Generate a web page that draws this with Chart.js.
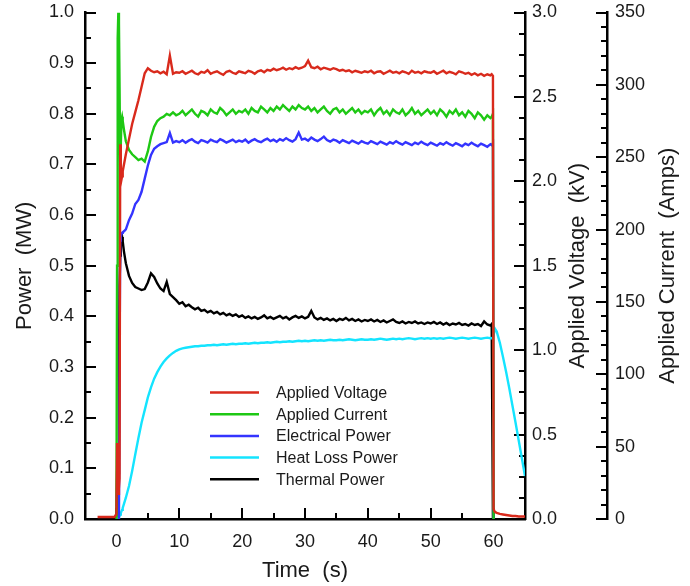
<!DOCTYPE html>
<html><head><meta charset="utf-8">
<script src="https://cdn.jsdelivr.net/npm/chart.js@4.4.0/dist/chart.umd.min.js"></script>
<style>html,body{margin:0;padding:0;background:#fff}#wrap{width:690px;height:586px}</style>
</head><body><div id="wrap"><canvas id="c" width="690" height="586"></canvas></div>
<script>
// ---------- data ----------
const time = [-5, -3, -0.3, 0, 0.1, 0.2, 0.3, 0.4, 0.5, 0.6, 0.7, 0.8, 0.9, 1, 1.2, 1.5,
  2, 2.5, 3, 3.5, 4, 4.5, 5, 5.5, 6, 6.5, 7, 7.5, 8, 8.5, 9, 9.5,
  10, 10.5, 11, 11.5, 12, 12.5, 13, 13.5, 14, 14.5, 15, 15.5, 16, 16.5, 17, 17.5, 18, 18.5, 19, 19.5,
  20, 20.5, 21, 21.5, 22, 22.5, 23, 23.5, 24, 24.5, 25, 25.5, 26, 26.5, 27, 27.5, 28, 28.5, 29, 29.5,
  30, 30.5, 31, 31.5, 32, 32.5, 33, 33.5, 34, 34.5, 35, 35.5, 36, 36.5, 37, 37.5, 38, 38.5, 39, 39.5,
  40, 40.5, 41, 41.5, 42, 42.5, 43, 43.5, 44, 44.5, 45, 45.5, 46, 46.5, 47, 47.5, 48, 48.5, 49, 49.5,
  50, 50.5, 51, 51.5, 52, 52.5, 53, 53.5, 54, 54.5, 55, 55.5, 56, 56.5, 57, 57.5, 58, 58.5, 59, 59.5,
  59.7, 59.9, 60, 60.2, 60.5, 61, 61.5, 62, 62.5, 63, 63.5, 64, 64.5, 65];

const voltageKV = [null, 0.012, 0.012, 0.03, 0.45, 0.18, 0.15, 0.18, 0.24, 2.22, 2.08, 2.01, 2.03, 2.06, 2.1, 2.16,
  2.25, 2.34, 2.41, 2.48, 2.56, 2.64, 2.67, 2.655, 2.646, 2.652, 2.64, 2.649, 2.634, 2.745, 2.637, 2.646,
  2.643, 2.652, 2.637, 2.646, 2.655, 2.64, 2.634, 2.649, 2.643, 2.658, 2.637, 2.646, 2.652, 2.64, 2.631, 2.649, 2.655, 2.643, 2.637, 2.652,
  2.646, 2.64, 2.655, 2.649, 2.637, 2.652, 2.658, 2.646, 2.661, 2.655, 2.667, 2.658, 2.664, 2.673, 2.661, 2.67, 2.664, 2.676, 2.667, 2.673,
  2.682, 2.715, 2.676, 2.67, 2.679, 2.664, 2.673, 2.667, 2.661, 2.67, 2.664, 2.655, 2.661, 2.652, 2.658, 2.646, 2.655, 2.649, 2.643, 2.652,
  2.646, 2.655, 2.64, 2.649, 2.652, 2.637, 2.646, 2.655, 2.643, 2.649, 2.64, 2.652, 2.646, 2.637, 2.655, 2.643, 2.649, 2.64, 2.652, 2.646,
  2.643, 2.652, 2.637, 2.646, 2.655, 2.64, 2.649, 2.643, 2.634, 2.652, 2.646, 2.637, 2.643, 2.631, 2.64, 2.628, 2.637, 2.625, 2.634, 2.628,
  2.634, 2.625, 0.06, 0.042, 0.036, 0.03, 0.027, 0.024, 0.021, 0.018, 0.018, 0.015, 0.015, 0.015];

const currentA = [null, null, null, 0, 175, 332, 350, 343, 298, 245, 259, 276, 278, 275, 269, 261,
  255, 252, 250, 248, 249, 247, 254, 264, 271, 275, 277, 278, 280, 279, 281, 279,
  280, 282, 279, 281, 283, 280, 278, 282, 281, 279, 283, 281, 280, 284, 282, 279, 281, 283, 280, 282,
  281, 283, 280, 284, 282, 281, 285, 283, 281, 284, 282, 285, 283, 286, 284, 282, 285, 283, 286, 284,
  283, 285, 282, 284, 281, 283, 285, 282, 280, 283, 284, 281, 283, 280, 282, 284, 281, 283, 280, 282,
  281, 283, 279, 282, 284, 280, 282, 279, 283, 281, 280, 283, 279, 281, 284, 280, 282, 279, 281, 283,
  280, 282, 279, 283, 281, 278, 282, 280, 283, 279, 281, 278, 282, 280, 277, 281, 279, 276, 279, 277,
  278, 280, 0, null, null, null, null, null, null, null, null, null, null, null];

const electricalMW = [null, null, null, null, null, null, null, 0, 0.30, 0.55, 0.558, 0.562, 0.565, 0.566, 0.568, 0.572,
  0.59, 0.603, 0.622, 0.63, 0.646, 0.672, 0.698, 0.719, 0.731, 0.736, 0.74, 0.742, 0.744, 0.762, 0.743, 0.746,
  0.744, 0.748, 0.743, 0.747, 0.75, 0.745, 0.742, 0.748, 0.746, 0.743, 0.749, 0.746, 0.744, 0.75, 0.747, 0.743, 0.746, 0.749, 0.744, 0.747,
  0.745, 0.749, 0.743, 0.747, 0.75, 0.746, 0.744, 0.748, 0.751, 0.746, 0.749, 0.745, 0.75, 0.747, 0.752, 0.748, 0.745, 0.75, 0.763, 0.749,
  0.751, 0.747, 0.753, 0.749, 0.746, 0.75, 0.755, 0.748, 0.745, 0.749, 0.747, 0.743, 0.748, 0.745, 0.742, 0.747, 0.744, 0.741, 0.746, 0.743,
  0.741, 0.746, 0.743, 0.74, 0.745, 0.742, 0.739, 0.744, 0.741, 0.746, 0.742, 0.739, 0.744, 0.741, 0.738, 0.743, 0.74, 0.745, 0.741, 0.738,
  0.743, 0.74, 0.737, 0.742, 0.739, 0.744, 0.74, 0.737, 0.742, 0.739, 0.736, 0.741, 0.738, 0.743, 0.739, 0.736, 0.741, 0.738, 0.735, 0.74,
  0.738, 0.742, 0, null, null, null, null, null, null, null, null, null, null, null];

const heatLossMW = [null, null, null, null, null, 0, 0.002, 0.004, 0.006, 0.009, 0.012, 0.015, 0.018, 0.022, 0.03, 0.042,
  0.065, 0.095, 0.128, 0.16, 0.19, 0.215, 0.24, 0.26, 0.277, 0.29, 0.301, 0.31, 0.317, 0.323, 0.328, 0.332,
  0.335, 0.337, 0.338, 0.339, 0.34, 0.341, 0.341, 0.342, 0.342, 0.343, 0.343, 0.344, 0.343, 0.344, 0.345, 0.344, 0.345, 0.346, 0.345, 0.346,
  0.346, 0.347, 0.346, 0.347, 0.348, 0.347, 0.348, 0.348, 0.349, 0.348, 0.349, 0.35, 0.349, 0.35, 0.35, 0.351, 0.35, 0.351, 0.352, 0.351,
  0.352, 0.351, 0.352, 0.353, 0.352, 0.353, 0.352, 0.353, 0.354, 0.353, 0.353, 0.354, 0.353, 0.354, 0.355, 0.354, 0.353, 0.354, 0.355, 0.354,
  0.354, 0.355, 0.354, 0.355, 0.356, 0.355, 0.354, 0.355, 0.356, 0.355, 0.356, 0.355, 0.356, 0.357, 0.356, 0.355, 0.356, 0.357, 0.356, 0.357,
  0.356, 0.357, 0.356, 0.357, 0.356, 0.357, 0.358, 0.357, 0.356, 0.357, 0.358, 0.357, 0.356, 0.357, 0.358, 0.357, 0.356, 0.357, 0.358, 0.357,
  0.357, 0.358, 0.362, 0.376, 0.37, 0.348, 0.32, 0.29, 0.258, 0.224, 0.19, 0.155, 0.12, 0.085];

const thermalMW = [null, null, null, 0, 0.08, 0.074, 0.09, 0.30, 0.46, 0.52, 0.545, 0.553, 0.557, 0.548, 0.528, 0.505,
  0.48, 0.466, 0.458, 0.455, 0.452, 0.454, 0.467, 0.485, 0.478, 0.465, 0.455, 0.45, 0.468, 0.444, 0.438, 0.432,
  0.425, 0.428, 0.42, 0.423, 0.418, 0.414, 0.417, 0.411, 0.413, 0.408, 0.411, 0.406, 0.409, 0.404, 0.407, 0.402, 0.405, 0.401, 0.404, 0.399,
  0.402, 0.397, 0.4, 0.396, 0.399, 0.395, 0.398, 0.402, 0.396, 0.399, 0.395, 0.398, 0.401, 0.396, 0.399, 0.394, 0.398, 0.401, 0.397, 0.4,
  0.396, 0.399, 0.411, 0.398, 0.394, 0.397, 0.393, 0.396, 0.392, 0.395, 0.391, 0.395, 0.393, 0.397, 0.392, 0.395, 0.391, 0.394, 0.39, 0.393,
  0.391, 0.394, 0.39, 0.393, 0.389, 0.392, 0.388, 0.391, 0.394, 0.389, 0.387, 0.39, 0.386, 0.389, 0.387, 0.39, 0.386, 0.388, 0.385, 0.388,
  0.386, 0.389, 0.385, 0.388, 0.384, 0.387, 0.383, 0.386, 0.384, 0.387, 0.383, 0.385, 0.382, 0.386, 0.383, 0.385, 0.381, 0.39, 0.384, 0.382,
  0.385, 0, null, null, null, null, null, null, null, null, null, null, null, null];

const seriesLabels = ['Applied Voltage', 'Applied Current', 'Electrical Power', 'Heat Loss Power', 'Thermal Power'];

// axis ticks
const xTicks = [0, 10, 20, 30, 40, 50, 60];
const xMinor = [-5, 5, 15, 25, 35, 45, 55, 65];
const powerTicks = [0, 0.1, 0.2, 0.3, 0.4, 0.5, 0.6, 0.7, 0.8, 0.9, 1.0];
const powerMinor = [0.05, 0.15, 0.25, 0.35, 0.45, 0.55, 0.65, 0.75, 0.85, 0.95];
const kvTicks = [0, 0.5, 1.0, 1.5, 2.0, 2.5, 3.0];
const kvMinor = [0.125, 0.25, 0.375, 0.625, 0.75, 0.875, 1.125, 1.25, 1.375, 1.625, 1.75, 1.875, 2.125, 2.25, 2.375, 2.625, 2.75, 2.875];
const ampTicks = [0, 50, 100, 150, 200, 250, 300, 350];
const ampMinor = [10, 20, 30, 40, 60, 70, 80, 90, 110, 120, 130, 140, 160, 170, 180, 190, 210, 220, 230, 240, 260, 270, 280, 290, 310, 320, 330, 340];

// ---------- styles ----------
const FONT = "'Liberation Sans', Arial, Helvetica, sans-serif";
const TXT = '#1a1a1a';
const AX = '#000000';
const colors = ['#d92a1c', '#1ec814', '#3434ff', '#14e4ff', '#000000'];

function pts(vals) { return time.map((t, i) => ({ x: t, y: vals[i] })); }
const seriesData = [voltageKV, currentA, electricalMW, heatLossMW, thermalMW];
const axisOf = ['yV', 'yA', 'y', 'y', 'y'];

const datasets = seriesData.map((vals, i) => ({
  label: seriesLabels[i],
  data: pts(vals),
  yAxisID: axisOf[i],
  borderColor: colors[i],
  backgroundColor: colors[i],
  borderWidth: 2.4,
  pointRadius: 0,
  tension: 0,
  fill: false,
  spanGaps: false
}));

function setTicks(arr) { return s => { s.ticks = arr.map(v => ({ value: v })); }; }
function fitY(w) { return s => { s.width = w; s.paddingTop = 0; s.paddingBottom = 0; }; }

const tickPlugin = {
  id: 'innerTicks',
  beforeDatasetsDraw(chart) {
    const { ctx, chartArea: ca, scales } = chart;
    const MAJ = 11, MIN = 6;
    ctx.save();
    ctx.strokeStyle = AX;
    ctx.lineWidth = 2;
    ctx.lineCap = 'butt';
    const seg = (x1, y1, x2, y2) => { ctx.beginPath(); ctx.moveTo(x1, y1); ctx.lineTo(x2, y2); ctx.stroke(); };
    const sx = scales.x;
    xTicks.forEach(v => { const p = Math.round(sx.getPixelForValue(v)); seg(p, ca.bottom, p, ca.bottom - MAJ); });
    xMinor.forEach(v => { const p = Math.round(sx.getPixelForValue(v)); seg(p, ca.bottom, p, ca.bottom - MIN); });
    const sy = scales.y;
    powerTicks.forEach(v => { const p = Math.round(sy.getPixelForValue(v)); seg(ca.left, p, ca.left + MAJ, p); });
    powerMinor.forEach(v => { const p = Math.round(sy.getPixelForValue(v)); seg(ca.left, p, ca.left + MIN, p); });
    const sv = scales.yV;
    kvTicks.forEach(v => { const p = Math.round(sv.getPixelForValue(v)); seg(ca.right, p, ca.right - MAJ, p); });
    kvMinor.forEach(v => { const p = Math.round(sv.getPixelForValue(v)); seg(ca.right, p, ca.right - MIN, p); });
    const sa = scales.yA;
    const ax = sa.left;
    ampTicks.forEach(v => { const p = Math.round(sa.getPixelForValue(v)); seg(ax, p, ax - MAJ, p); });
    ampMinor.forEach(v => { const p = Math.round(sa.getPixelForValue(v)); seg(ax, p, ax - MIN, p); });
    ctx.restore();
  },
  afterDraw(chart) {
    const { ctx, chartArea: ca, scales } = chart;
    ctx.save();
    // right-hand axis titles, reading bottom to top
    ctx.fillStyle = TXT;
    ctx.font = '22px ' + FONT;
    ctx.textAlign = 'center';
    ctx.textBaseline = 'middle';
    const midY = (ca.top + ca.bottom) / 2;
    [[scales.yV.left + 53, 'Applied Voltage  (kV)'], [scales.yA.left + 61, 'Applied Current  (Amps)']].forEach(([x, t]) => {
      ctx.save(); ctx.translate(x, midY); ctx.rotate(-Math.PI / 2); ctx.fillText(t, 0, 0); ctx.restore();
    });
    // legend inside plot
    ctx.font = '16px ' + FONT;
    ctx.textAlign = 'left';
    const lx0 = ca.left + 125, lx1 = ca.left + 174, tx = ca.left + 191;
    const ly0 = ca.top + 380, dy = 21.7;
    seriesLabels.forEach((lab, i) => {
      const y = ly0 + i * dy;
      ctx.strokeStyle = colors[i];
      ctx.lineWidth = 2.5;
      ctx.beginPath(); ctx.moveTo(lx0, y); ctx.lineTo(lx1, y); ctx.stroke();
      ctx.fillStyle = TXT;
      ctx.fillText(lab, tx, y + 1);
    });
    ctx.restore();
  }
};

const tickFont = { family: FONT, size: 18 };

new Chart(document.getElementById('c'), {
  type: 'line',
  data: { datasets },
  options: {
    responsive: false,
    animation: false,
    events: [],
    layout: { padding: { top: 12.5, left: 0, right: 0, bottom: 0 } },
    plugins: { legend: { display: false }, tooltip: { enabled: false } },
    scales: {
      x: {
        type: 'linear', position: 'bottom', min: -5, max: 65,
        afterBuildTicks: setTicks(xTicks),
        afterFit: s => { s.height = 67; },
        grid: { display: false, drawTicks: false },
        border: { display: true, color: AX, width: 2.5 },
        ticks: { font: tickFont, color: TXT, padding: 12, maxRotation: 0, autoSkip: false, callback: v => String(v) },
        title: { display: true, text: 'Time  (s)', font: { family: FONT, size: 22 }, color: TXT, padding: { top: 0, bottom: 2 } }
      },
      y: {
        type: 'linear', position: 'left', min: 0, max: 1,
        afterBuildTicks: setTicks(powerTicks),
        afterFit: fitY(85),
        grid: { display: false, drawTicks: false },
        border: { display: true, color: AX, width: 2.5 },
        ticks: { font: tickFont, color: TXT, padding: 11, autoSkip: false, callback: v => Number(v).toFixed(1) },
        title: { display: true, text: 'Power  (MW)', font: { family: FONT, size: 22 }, color: TXT, padding: { top: 12, bottom: 0 } }
      },
      yV: {
        type: 'linear', position: 'right', min: 0, max: 3, weight: 0,
        afterBuildTicks: setTicks(kvTicks),
        afterFit: fitY(82),
        grid: { display: false, drawTicks: false },
        border: { display: true, color: AX, width: 2.5 },
        ticks: { font: tickFont, color: TXT, padding: 7, autoSkip: false, callback: v => Number(v).toFixed(1) }
      },
      yA: {
        type: 'linear', position: 'right', min: 0, max: 350, weight: 1,
        afterBuildTicks: setTicks(ampTicks),
        afterFit: fitY(83),
        grid: { display: false, drawTicks: false },
        border: { display: true, color: AX, width: 2.5 },
        ticks: { font: tickFont, color: TXT, padding: 8, autoSkip: false, callback: v => String(v) }
      }
    }
  },
  plugins: [tickPlugin]
});
</script>
</body></html>
